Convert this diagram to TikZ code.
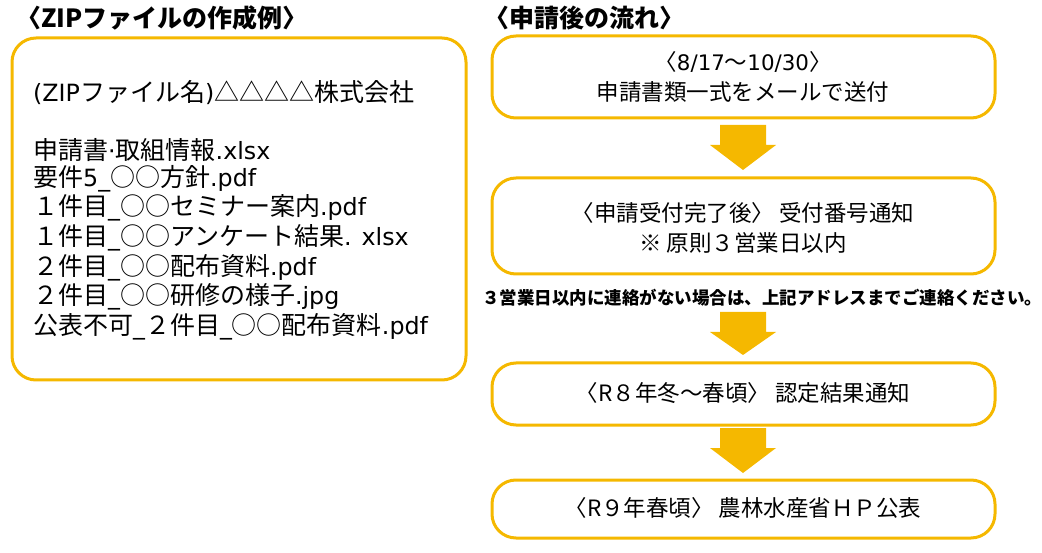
\documentclass[tikz,border=0pt]{standalone}
\usepackage{fontspec}
\setmainfont{Noto Sans CJK JP}
\newfontfamily\lat{DejaVu Sans}[Scale=0.95]
\begin{document}
\begin{tikzpicture}[x=1pt,y=-1pt,
  box/.style={draw=gold,line width=3pt,rounded corners=24pt},
  txt/.style={font=\fontsize{22.5}{30}\selectfont,inner sep=0pt},
  ltxt/.style={font=\fontsize{25}{30}\selectfont,inner sep=0pt,anchor=west},
  ttl/.style={font=\fontsize{25}{30}\selectfont\bfseries,inner sep=0pt,anchor=west},
  arr/.style={fill=gold,draw=none}]
\definecolor{gold}{HTML}{F5B800}
\useasboundingbox (0,0) rectangle (1042,553);
\node[ttl] (t1) at (16,18) {〈ZIPファイルの作成例〉};
\node[ttl] (t2) at (484,18) {〈申請後の流れ〉};
\draw[box] (12,38) rectangle (466,380);
\node[ltxt] (l1) at (33,93) {{\lat(ZIP}ファイル名{\lat)}△△△△株式会社};
\node[ltxt] (l2) at (33,150) {申請書{\lat·}取組情報{\lat.xlsx}};
\node[ltxt] (l3) at (33,179) {要件{\lat5\_}○○方針{\lat.pdf}};
\node[ltxt] (l4) at (33,208) { １件目{\lat\_}○○セミナー案内{\lat.pdf}};
\node[ltxt] (l5) at (33,238) { １件目{\lat\_}○○アンケート結果{\lat. xlsx}};
\node[ltxt] (l6) at (33,268) { ２件目{\lat\_}○○配布資料{\lat.pdf}};
\node[ltxt] (l7) at (33,297) { ２件目{\lat\_}○○研修の様子{\lat.jpg}};
\node[ltxt] (l8) at (33,327) {公表不可{\lat\_}２件目{\lat\_}○○配布資料{\lat.pdf}};
\draw[box] (492,36) rectangle (995,118);
\node[txt,align=center] (b1) at (743,77) {〈{\lat 8/17}～{\lat 10/30}〉\\申請書類一式をメールで送付};
\draw[box] (492,178) rectangle (995,274);
\node[txt,align=center] (b2) at (743,228) {〈申請受付完了後〉 受付番号通知\\※ 原則３営業日以内};
\node[inner sep=0pt,font=\fontsize{17.5}{20}\selectfont\bfseries] (note) at (762,298) {３営業日以内に連絡がない場合は、上記アドレスまでご連絡ください。};
\draw[box] (492,363) rectangle (995,425);
\node[txt] (b3) at (743,393) {〈R８年冬～春頃〉 認定結果通知};
\draw[box] (492,480) rectangle (995,538);
\node[txt] (b4) at (743,508) {〈R９年春頃〉 農林水産省ＨＰ公表};
\foreach \a/\b in {125/170,312/355,428/473}{
  \fill[arr] (720,\a) -- (766,\a) -- (766,\a+20) -- (776,\a+20) -- (743,\b) -- (710,\a+20) -- (720,\a+20) -- cycle;}
\end{tikzpicture}
\end{document}
